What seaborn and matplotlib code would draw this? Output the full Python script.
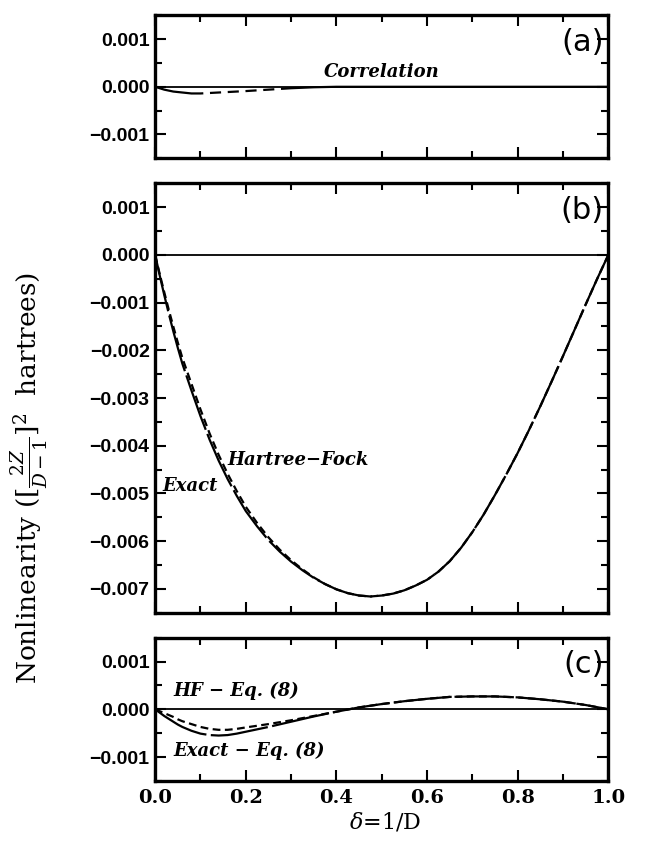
import numpy as np
import pandas as pd
import seaborn as sns
import matplotlib.pyplot as plt
from matplotlib.ticker import MultipleLocator, FuncFormatter

sns.set_theme(style="ticks")
plt.rcParams['font.family'] = ['DejaVu Sans']
plt.rcParams['mathtext.fontset'] = 'dejavuserif'
for k in ['text.color', 'axes.labelcolor', 'xtick.color', 'ytick.color', 'axes.edgecolor']:
    plt.rcParams[k] = 'black'

# delta = 1/D, grid for panels (a) and (c)
delta = [0, 0.01, 0.02, 0.03, 0.04, 0.05, 0.06, 0.08, 0.10, 0.12, 0.14, 0.16, 0.18, 0.20,
         0.25, 0.30, 0.35, 0.40, 0.45, 0.50, 0.55, 0.60, 0.65, 0.70, 0.75, 0.80, 0.85,
         0.90, 0.95, 1.00]

# (a) correlation
corr = [0, -0.00003, -0.00006, -0.00008, -0.00010, -0.00011, -0.00012, -0.00014, -0.00014,
        -0.00013, -0.00012, -0.00011, -0.00010, -0.00009, -0.00006, -0.00003, -0.00001, 0,
        0, 0, 0, 0, 0, 0, 0, 0, 0, 0, 0, 0]

# (c) differences from Eq. (8)
exact_eq8 = [0, -0.00007, -0.00014, -0.00020, -0.00026, -0.00032, -0.00037, -0.00045,
             -0.00051, -0.00054, -0.00055, -0.00054, -0.00051, -0.00047, -0.00037, -0.00026,
             -0.00015, -0.00005, 0.00004, 0.00011, 0.00017, 0.00022, 0.00026, 0.00027,
             0.00027, 0.00025, 0.00021, 0.00016, 0.00009, 0]
hf_eq8 = [0, -0.00004, -0.00008, -0.00012, -0.00016, -0.00021, -0.00025, -0.00031, -0.00037,
          -0.00041, -0.00043, -0.00043, -0.00041, -0.00038, -0.00031, -0.00023, -0.00014,
          -0.00005, 0.00004, 0.00011, 0.00017, 0.00022, 0.00026, 0.00027, 0.00027, 0.00025,
          0.00021, 0.00016, 0.00009, 0]

# (b) exact and Hartree-Fock nonlinearity
delta_b = [0, 0.01, 0.02, 0.03, 0.04, 0.05, 0.06, 0.08, 0.10, 0.12, 0.14, 0.16, 0.18, 0.20,
           0.225, 0.25, 0.275, 0.30, 0.325, 0.35, 0.375, 0.40, 0.425, 0.45, 0.475, 0.50,
           0.525, 0.55, 0.575, 0.60, 0.625, 0.65, 0.675, 0.70, 0.725, 0.75, 0.775, 0.80,
           0.825, 0.85, 0.875, 0.90, 0.925, 0.95, 0.975, 1.00]
exact = [0, -0.00043, -0.00084, -0.00123, -0.00160, -0.00195, -0.00228, -0.00284, -0.00338,
         -0.00387, -0.00431, -0.00470, -0.00505, -0.00537,
         -0.00569, -0.00598, -0.00622, -0.00643, -0.00661, -0.00677, -0.00690, -0.00701,
         -0.00709, -0.00714, -0.00716, -0.00714, -0.00710, -0.00703, -0.00693, -0.00681,
         -0.00664, -0.00642, -0.00614, -0.00581, -0.00544, -0.00503, -0.00460, -0.00415,
         -0.00367, -0.00317, -0.00265, -0.00212, -0.00158, -0.00104, -0.00051, 0]
hf = [0, -0.00040, -0.00078, -0.00115, -0.00150, -0.00184, -0.00216, -0.00270, -0.00324,
      -0.00374, -0.00419, -0.00459, -0.00495, -0.00528,
      -0.00562, -0.00592, -0.00618, -0.00640, -0.00659, -0.00676, -0.00690, -0.00701,
      -0.00709, -0.00714, -0.00716, -0.00714, -0.00710, -0.00703, -0.00693, -0.00681,
      -0.00664, -0.00642, -0.00614, -0.00581, -0.00544, -0.00503, -0.00460, -0.00415,
      -0.00367, -0.00317, -0.00265, -0.00212, -0.00158, -0.00104, -0.00051, 0]

df = pd.DataFrame({'delta': delta, 'corr': corr, 'exact_eq8': exact_eq8, 'hf_eq8': hf_eq8})
df_b = pd.DataFrame({'delta': delta_b, 'exact': exact, 'hf': hf})

LONG = (0, (26, 2))
SHORT = (0, (3.5, 2))
CORR_LS = (0, (22, 3, 5, 3, 5, 3, 5, 3, 5, 3, 200, 2))
annot = dict(family='DejaVu Serif', style='italic', weight='bold', fontsize=13)

fig, axes = plt.subplots(3, 1, figsize=(6.52, 8.46), dpi=100, sharex=True,
                         gridspec_kw=dict(height_ratios=[1, 3, 1], hspace=0.105))
fig.subplots_adjust(left=0.238, right=0.933, top=0.982, bottom=0.077)
ax_a, ax_b, ax_c = axes

for ax in axes:
    ax.axhline(0, color='black', lw=1.3, zorder=1)

sns.lineplot(data=df, x='delta', y='corr', ax=ax_a, color='black', lw=1.6, linestyle=CORR_LS)

sns.lineplot(data=df_b, x='delta', y='exact', ax=ax_b, color='black', lw=1.6, linestyle=LONG)
sns.lineplot(data=df_b, x='delta', y='hf', ax=ax_b, color='black', lw=1.6, linestyle=SHORT)

sns.lineplot(data=df, x='delta', y='exact_eq8', ax=ax_c, color='black', lw=1.6, linestyle=LONG)
sns.lineplot(data=df, x='delta', y='hf_eq8', ax=ax_c, color='black', lw=1.6, linestyle=SHORT)

ax_a.set_ylim(-0.0015, 0.0015)
ax_b.set_ylim(-0.0075, 0.0015)
ax_c.set_ylim(-0.0015, 0.0015)

fmt = FuncFormatter(lambda v, p: f"{v:.3f}".replace('-', '\u2212') if abs(v) > 1e-9 else "0.000")
for ax in axes:
    ax.set_xlim(0, 1)
    ax.set_xlabel('')
    ax.set_ylabel('')
    ax.xaxis.set_major_locator(MultipleLocator(0.2))
    ax.xaxis.set_minor_locator(MultipleLocator(0.1))
    ax.yaxis.set_major_locator(MultipleLocator(0.001))
    ax.yaxis.set_minor_locator(MultipleLocator(0.0005))
    ax.yaxis.set_major_formatter(fmt)
    ax.tick_params(which='both', direction='in', top=True, right=True, width=1.5, colors='black')
    ax.tick_params(which='major', length=8)
    ax.tick_params(which='minor', length=5)
    ax.tick_params(axis='y', labelsize=14, pad=4)
    ax.tick_params(axis='x', labelsize=14, pad=6)
    for s in ax.spines.values():
        s.set_linewidth(2.4)
        s.set_color('black')
    for lab in ax.get_yticklabels():
        lab.set_fontweight('bold')
        lab.set_family('Liberation Sans')
    for lab in ax.get_xticklabels():
        lab.set_fontweight('bold')
        lab.set_family('DejaVu Serif')

for ax, tag in zip(axes, ['(a)', '(b)', '(c)']):
    ax.text(0.99, 0.00093, tag, ha='right', va='center', fontsize=22,
            transform=ax.get_yaxis_transform())

ax_a.text(0.50, 0.00032, 'Correlation', ha='center', va='center', **annot)
ax_b.text(0.16, -0.0043, 'Hartree\u2212Fock', ha='left', va='center', **annot)
ax_b.text(0.017, -0.00485, 'Exact', ha='left', va='center', **annot)
ax_c.text(0.04, 0.00039, 'HF \u2212 Eq. (8)', ha='left', va='center', **annot)
ax_c.text(0.04, -0.00088, 'Exact \u2212 Eq. (8)', ha='left', va='center', **annot)

fig.text(0.59, 0.028, r'$\delta$=1/D', ha='center', va='center', fontsize=16, family='DejaVu Serif')
fig.text(0.046, 0.435, r'Nonlinearity ($[\frac{2Z}{D-1}]^2$  hartrees)', rotation=90,
         ha='center', va='center', fontsize=19, family='DejaVu Serif')

fig.savefig('out.png', dpi=100)
